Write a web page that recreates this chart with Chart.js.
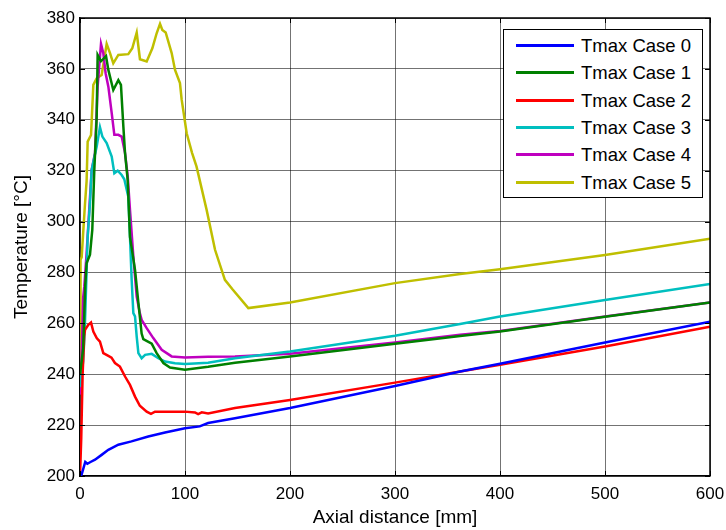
<!DOCTYPE html>
<html lang="en">
<head>
  <meta charset="UTF-8">
  <title>Tmax cases</title>
  <style>
    body {
      margin: 0;
      background: #fff;
      font-family: 'Liberation Sans', Arial, sans-serif;
    }
    #wrap {
      position: relative;
      width: 726px;
      height: 530px;
    }
    #legend {
      position: absolute;
      left: 503px;
      top: 29px;
      width: 198px;
      height: 167px;
      border: 1px solid #000;
      background: #fff;
    }
    .row {
      position: absolute;
      left: 0;
      height: 24px;
      width: 198px;
    }
    .row .swatch {
      position: absolute;
      left: 12px;
      top: 10px;
      width: 58px;
      height: 0;
      border-top: 3px solid #000;
    }
    .row .label {
      position: absolute;
      left: 77px;
      top: 0;
      font-size: 18.5px;
      line-height: 24px;
      color: #000;
      white-space: nowrap;
    }
  </style>
</head>
<body>
  <div id="wrap">
    <canvas id="chart" width="726" height="530"></canvas>
    <div id="legend"></div>
  </div>

  <script src="https://cdn.jsdelivr.net/npm/chart.js"></script>
  <script>
    // axis ticks
    const xTicks = [0, 100, 200, 300, 400, 500, 600];
    const yTicks = [200, 220, 240, 260, 280, 300, 320, 340, 360, 380];

    const seriesNames = ['Tmax Case 0', 'Tmax Case 1', 'Tmax Case 2', 'Tmax Case 3', 'Tmax Case 4', 'Tmax Case 5'];
    const seriesColors = ['#0000ff', '#008000', '#ff0000', '#00bfbf', '#bf00bf', '#bfbf00'];

    // Case 0
    const xCase0 = [0, 1.5, 5, 7, 10, 14.3, 20.6, 27, 36.5, 49, 65, 81, 100, 114, 122, 147.6, 200, 300, 362, 400, 500, 600];
    const yCase0 = [200, 200.5, 205.5, 204.8, 205.5, 206.4, 208.3, 210.3, 212.3, 213.6, 215.5, 217.1, 218.8, 219.5, 220.8, 222.7, 226.7, 235.4, 241.1, 244.1, 252.5, 260.6];

    // Case 1
    const xCase1 = [0, 3, 5, 6.3, 9.5, 11.7, 13.6, 15.9, 16.8, 20, 24.8, 27, 31.7, 36.5, 39, 41.3, 42.9, 45.4, 47.6, 52.4, 55.6, 58.7, 60.3, 68.3, 73, 79.4, 85.7, 100, 122, 147.6, 200, 300, 362, 400, 500, 600];
    const yCase1 = [240, 250, 275, 283.6, 287, 296.7, 320, 341, 365.5, 363, 365, 359.6, 351.7, 355.6, 353.7, 337.3, 326.9, 316.4, 294, 281, 268, 256, 253.8, 252, 248.3, 244.4, 242.6, 241.8, 242.9, 244.5, 247, 252, 255, 256.8, 262.6, 268.2];

    // Case 2
    const xCase2 = [0, 1.2, 2.5, 4, 4.8, 7.9, 10.5, 12.7, 15.9, 19, 22.2, 27, 30, 33.3, 38, 42.9, 47.6, 52.4, 57, 63.5, 67.6, 71.4, 100, 109.5, 112.5, 116, 122, 147.6, 200, 300, 362, 400, 500, 600];
    const yCase2 = [200, 215, 240, 255, 257.4, 259.4, 260.3, 256.8, 254.2, 252.8, 248.3, 247.2, 246.5, 244.4, 243, 239.1, 235.8, 231.2, 227.6, 225.3, 224.4, 225.3, 225.3, 225, 224.3, 225, 224.6, 226.7, 229.9, 236.7, 241.1, 243.7, 250.9, 258.7];

    // Case 3
    const xCase3 = [0, 3, 4.5, 7.3, 9.5, 11.1, 15.9, 19, 21.3, 25.4, 30.2, 32.7, 35.9, 39.7, 42.2, 46, 47.6, 49.2, 50.8, 52.4, 54, 55.6, 58.7, 62, 68.3, 74.6, 81, 90.5, 100, 122, 147.6, 200, 300, 362, 400, 500, 600];
    const yCase3 = [235, 245, 257, 294, 307.2, 320.3, 329.5, 337.1, 333.4, 330.8, 325.5, 319, 320, 318.3, 316.6, 309.8, 294.1, 277.1, 264, 262.7, 254.8, 248.3, 246.3, 247.6, 248, 246.3, 245, 244.3, 244, 244.5, 246.3, 248.9, 255.1, 259.7, 262.7, 269.2, 275.5];

    // Case 4
    const xCase4 = [0, 1, 2.2, 3, 4.1, 6.3, 8.6, 11.1, 14.3, 16.8, 20, 22.2, 24.4, 27, 30.2, 32.7, 36.5, 39.7, 42.9, 45.4, 47.6, 50.8, 54, 57, 58.7, 63.5, 69.8, 77.8, 87.3, 100, 122, 147.6, 200, 300, 362, 400, 500, 600];
    const yCase4 = [232, 240, 257, 270, 274.5, 287.6, 303.3, 320.3, 326.9, 353, 369.8, 366.2, 358.3, 353, 342.6, 334.1, 334.1, 333.4, 326.9, 318, 304.6, 286.2, 270.5, 264, 261.4, 258.1, 254.2, 249.6, 247, 246.6, 246.9, 247, 248, 252.5, 255.5, 257, 262.7, 268.2];

    // Case 5
    const xCase5 = [0, 0.5, 1.6, 3.2, 4.8, 6.3, 7.3, 10.5, 12.7, 15.9, 20.6, 25.4, 28.6, 31.7, 36.5, 46, 49.8, 54, 57.1, 63.5, 68.9, 73, 76.2, 78.4, 81.6, 87.3, 90.5, 95.2, 96.8, 101.6, 106.7, 111, 120.6, 128.6, 138, 145, 160.3, 200, 300, 362, 400, 500, 600];
    const yCase5 = [240, 285, 286, 296.7, 307.2, 316, 331.4, 334, 353.7, 356.3, 357.6, 369.8, 366.2, 362.2, 365.5, 365.8, 368.1, 374.3, 363.8, 362.9, 368.1, 374, 377.7, 375.3, 374.3, 366.2, 359.6, 354.4, 348, 334.7, 327, 321.6, 304.6, 288.9, 277.1, 273.5, 266, 268.2, 275.8, 279.4, 281.3, 286.9, 293.2];

    const xs = [xCase0, xCase1, xCase2, xCase3, xCase4, xCase5];
    const ys = [yCase0, yCase1, yCase2, yCase3, yCase4, yCase5];

    const datasets = seriesNames.map((name, i) => ({
      label: name,
      data: xs[i].map((x, j) => ({ x: x, y: ys[i][j] })),
      borderColor: seriesColors[i],
      backgroundColor: seriesColors[i],
      borderWidth: 2.5,
      pointRadius: 0,
      tension: 0,
      fill: false
    }));

    // box on top/right + inward tick marks like matlab
    const boxTicks = {
      id: 'boxTicks',
      afterDraw(chart) {
        const { ctx, chartArea: a, scales } = chart;
        ctx.save();
        ctx.strokeStyle = '#000';
        ctx.lineWidth = 1;
        ctx.beginPath();
        xTicks.forEach(v => {
          const px = Math.round(scales.x.getPixelForValue(v)) + 0.5;
          ctx.moveTo(px, a.bottom); ctx.lineTo(px, a.bottom - 5);
          ctx.moveTo(px, a.top); ctx.lineTo(px, a.top + 5);
        });
        yTicks.forEach(v => {
          const py = Math.round(scales.y.getPixelForValue(v)) + 0.5;
          ctx.moveTo(a.left, py); ctx.lineTo(a.left + 5, py);
          ctx.moveTo(a.right, py); ctx.lineTo(a.right - 5, py);
        });
        ctx.stroke();
        ctx.lineWidth = 1.5;
        ctx.beginPath();
        ctx.moveTo(a.left, a.top); ctx.lineTo(a.right, a.top); ctx.lineTo(a.right, a.bottom);
        ctx.stroke();
        ctx.restore();
      }
    };

    const ctx = document.getElementById('chart').getContext('2d');
    new Chart(ctx, {
      type: 'line',
      data: { datasets: datasets },
      options: {
        responsive: false,
        animation: false,
        layout: { padding: { top: 18, right: 16, left: 0, bottom: 0 } },
        plugins: {
          legend: { display: false },
          tooltip: { enabled: false }
        },
        scales: {
          x: {
            type: 'linear',
            min: 0,
            max: 600,
            afterBuildTicks: s => { s.ticks = xTicks.map(v => ({ value: v })); },
            afterFit: s => { s.height = 54; s.paddingLeft = 0; s.paddingRight = 0; },
            grid: { color: 'rgba(0,0,0,0.55)', borderDash: [1, 2], drawTicks: false, lineWidth: 1 },
            border: { display: true, color: '#000', width: 1.5 },
            ticks: { color: '#000', padding: 8, font: { family: 'Liberation Sans', size: 17 }, maxRotation: 0 },
            title: { display: true, text: 'Axial distance [mm]', color: '#000', font: { family: 'Liberation Sans', size: 19 }, padding: { top: 0, bottom: 1 } }
          },
          y: {
            min: 200,
            max: 380,
            afterBuildTicks: s => { s.ticks = yTicks.map(v => ({ value: v })); },
            afterFit: s => { s.width = 80; s.paddingTop = 0; s.paddingBottom = 0; },
            grid: { color: 'rgba(0,0,0,0.55)', borderDash: [1, 2], drawTicks: false, lineWidth: 1 },
            border: { display: true, color: '#000', width: 1.5 },
            ticks: { color: '#000', padding: 5, font: { family: 'Liberation Sans', size: 17 } },
            title: { display: true, text: 'Temperature [°C]', color: '#000', font: { family: 'Liberation Sans', size: 19 }, padding: { top: 10, bottom: 0 } }
          }
        }
      },
      plugins: [boxTicks]
    });

    // legend box inside the axes
    const legend = document.getElementById('legend');
    seriesNames.forEach((name, i) => {
      const row = document.createElement('div');
      row.className = 'row';
      row.style.top = (4 + i * 27.3) + 'px';
      row.innerHTML = '<div class="swatch" style="border-top-color:' + seriesColors[i] + '"></div>' +
        '<div class="label">' + name + '</div>';
      legend.appendChild(row);
    });
  </script>
</body>
</html>
